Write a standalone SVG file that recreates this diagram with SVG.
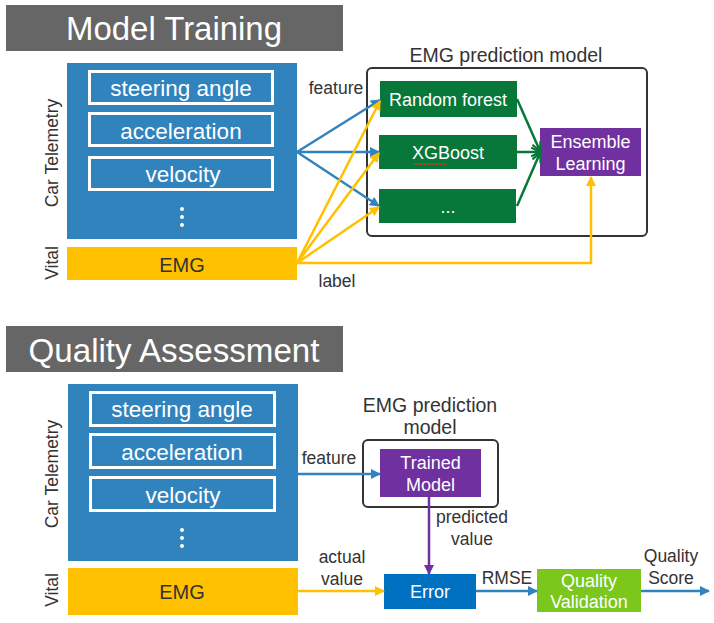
<svg xmlns="http://www.w3.org/2000/svg" width="714" height="623" viewBox="0 0 714 623">
<defs>
<style>
text{font-family:"Liberation Sans",Arial,sans-serif;}
.title{fill:#fff;font-size:33px;text-anchor:middle;}
.bar{fill:#666666;}
.tele{fill:#3183BE;}
.inner{fill:none;stroke:#fff;stroke-width:3;}
.itxt{fill:#fff;font-size:22.5px;text-anchor:middle;}
.emg{fill:#FFC000;}
.emgt{fill:#333;font-size:20px;text-anchor:middle;}
.side{fill:#333;font-size:17.5px;text-anchor:middle;}
.lbl{fill:#333;font-size:17.5px;text-anchor:middle;}
.hdr{fill:#333;font-size:19.5px;text-anchor:middle;}
.wt{fill:#fff;font-size:18px;text-anchor:middle;}
.grn{fill:#07773A;}
.pur{fill:#7030A0;}
.cont{fill:none;stroke:#333;stroke-width:2;}
.cb{fill:none;stroke:#3183BE;stroke-width:2.5;}
.cy{fill:none;stroke:#FFC000;stroke-width:2.5;}
.cg{fill:none;stroke:#07773A;stroke-width:2.5;}
.cp{fill:none;stroke:#7030A0;stroke-width:2.5;}
</style>
<marker id="ab" viewBox="0 0 10 10" refX="9" refY="5" markerWidth="10" markerHeight="10" markerUnits="userSpaceOnUse" orient="auto"><path d="M0,0 L10,5 L0,10 z" fill="#3183BE"/></marker>
<marker id="ay" viewBox="0 0 10 10" refX="9" refY="5" markerWidth="10" markerHeight="10" markerUnits="userSpaceOnUse" orient="auto"><path d="M0,0 L10,5 L0,10 z" fill="#FFC000"/></marker>
<marker id="ap" viewBox="0 0 10 10" refX="9" refY="5" markerWidth="10" markerHeight="10" markerUnits="userSpaceOnUse" orient="auto"><path d="M0,0 L10,5 L0,10 z" fill="#7030A0"/></marker>
<marker id="ag" viewBox="0 0 10 10" refX="9" refY="5" markerWidth="11" markerHeight="11" markerUnits="userSpaceOnUse" orient="auto"><path d="M1,1 L9,5 L1,9" fill="none" stroke="#07773A" stroke-width="2"/></marker>
</defs>

<!-- ===== Model Training ===== -->
<g id="title-training"><rect class="bar" x="6" y="5" width="337" height="46"/><text class="title" x="174" y="40" textLength="216" lengthAdjust="spacingAndGlyphs">Model Training</text></g>

<g id="telemetry-top">
<rect class="tele" x="67" y="63" width="230" height="176"/>
<rect class="inner" x="89.5" y="71.5" width="183" height="32"/>
<text class="itxt" x="181" y="96">steering angle</text>
<rect class="inner" x="89.5" y="113.5" width="183" height="32"/>
<text class="itxt" x="181" y="139">acceleration</text>
<rect class="inner" x="89.5" y="157.5" width="183" height="32"/>
<text class="itxt" x="183" y="182">velocity</text>
<circle cx="182" cy="209" r="2" fill="#fff"/><circle cx="182" cy="217" r="2" fill="#fff"/><circle cx="182" cy="225" r="2" fill="#fff"/>
<text class="side" transform="translate(58,153) rotate(-90)">Car Telemetry</text>
</g>
<g id="emg-top">
<rect class="emg" x="67" y="247" width="230" height="33"/>
<text class="emgt" x="182" y="272">EMG</text>
<text class="side" transform="translate(58,263) rotate(-90)">Vital</text>
</g>

<g id="emg-model-top">
<text class="hdr" x="506" y="62">EMG prediction model</text>
<rect class="cont" x="367" y="68" width="280" height="168" rx="5"/>
</g>
<g id="rf"><rect class="grn" x="380" y="81" width="137" height="36"/><text class="wt" x="448" y="106">Random forest</text></g>
<g id="xgb"><rect class="grn" x="379" y="135" width="138" height="34"/><text class="wt" x="448" y="159">XGBoost</text>
<path d="M413,164 q1,-1.5 2,0 t2,0 t2,0 t2,0 t2,0 t2,0 t2,0 t2,0 t2,0 t2,0 t2,0 t2,0 t2,0 t2,0 t2,0 t2,0 t2,0" fill="none" stroke="#d33" stroke-width="1"/></g>
<g id="more"><rect class="grn" x="379" y="189" width="137" height="34"/><text class="wt" x="448" y="213">...</text></g>
<g id="ensemble"><rect class="pur" x="540" y="128" width="101" height="48"/><text class="wt" x="590.5" y="148">Ensemble</text><text class="wt" x="590.5" y="170">Learning</text></g>

<!-- ===== Quality Assessment ===== -->
<g id="title-quality"><rect class="bar" x="6" y="326" width="337" height="46"/><text class="title" x="174" y="362" textLength="291" lengthAdjust="spacingAndGlyphs">Quality Assessment</text></g>

<g id="telemetry-bottom">
<rect class="tele" x="68" y="384" width="230" height="177"/>
<rect class="inner" x="90.5" y="392.5" width="184" height="33"/>
<text class="itxt" x="182" y="417">steering angle</text>
<rect class="inner" x="90.5" y="434.5" width="184" height="33"/>
<text class="itxt" x="182" y="460">acceleration</text>
<rect class="inner" x="90.5" y="477.5" width="184" height="33"/>
<text class="itxt" x="183" y="503">velocity</text>
<circle cx="182" cy="530" r="2" fill="#fff"/><circle cx="182" cy="538" r="2" fill="#fff"/><circle cx="182" cy="546" r="2" fill="#fff"/>
<text class="side" transform="translate(58,474) rotate(-90)">Car Telemetry</text>
</g>
<g id="emg-bottom">
<rect class="emg" x="68" y="568" width="230" height="47"/>
<text class="emgt" x="182" y="599">EMG</text>
<text class="side" transform="translate(58,590) rotate(-90)">Vital</text>
</g>

<g id="emg-model-bottom">
<text class="hdr" x="430" y="412">EMG prediction</text>
<text class="hdr" x="430" y="434">model</text>
<rect class="cont" x="363" y="440" width="135" height="67" rx="5"/>
</g>
<g id="trained"><rect class="pur" x="380" y="449" width="101" height="48"/><text class="wt" x="430.5" y="469">Trained</text><text class="wt" x="430.5" y="491">Model</text></g>
<g id="error"><rect x="384" y="574" width="92" height="35" fill="#0070C0"/><text class="wt" x="430" y="598">Error</text></g>
<g id="validation"><rect x="537" y="569" width="104" height="43" fill="#7CC71B"/><text class="wt" x="589" y="587">Quality</text><text class="wt" x="589" y="608">Validation</text></g>

<!-- ===== Connectors ===== -->
<g id="connectors">
<path class="cb" d="M297,152 L380,100" marker-end="url(#ab)"/>
<path class="cb" d="M297,152 L379,152" marker-end="url(#ab)"/>
<path class="cb" d="M297,152 L379,206" marker-end="url(#ab)"/>
<path class="cy" d="M297,263 L380,101" marker-end="url(#ay)"/>
<path class="cy" d="M297,263 L379,153" marker-end="url(#ay)"/>
<path class="cy" d="M297,263 L379,207" marker-end="url(#ay)"/>
<path class="cy" d="M297,263 L591,263 L591,177" marker-end="url(#ay)"/>
<path class="cg" d="M517,99 L540,151" marker-end="url(#ag)"/>
<path class="cg" d="M517,152 L540,152" marker-end="url(#ag)"/>
<path class="cg" d="M517,206 L540,153" marker-end="url(#ag)"/>
<text class="lbl" x="336" y="94">feature</text>
<text class="lbl" x="337" y="287">label</text>

<path class="cb" d="M298,474 L380,474" marker-end="url(#ab)"/>
<path class="cp" d="M429,497 L429,574" marker-end="url(#ap)"/>
<path class="cy" d="M298,591 L384,591" marker-end="url(#ay)"/>
<path class="cb" d="M476,591 L537,591" marker-end="url(#ab)"/>
<path class="cb" d="M641,591 L709,591" marker-end="url(#ab)"/>
<text class="lbl" x="329" y="464">feature</text>
<text class="lbl" x="472" y="523">predicted</text>
<text class="lbl" x="472" y="545">value</text>
<text class="lbl" x="342" y="563">actual</text>
<text class="lbl" x="342" y="585">value</text>
<text class="lbl" x="507" y="584">RMSE</text>
<text class="lbl" x="671" y="562">Quality</text>
<text class="lbl" x="671" y="584">Score</text>
</g>
</svg>
